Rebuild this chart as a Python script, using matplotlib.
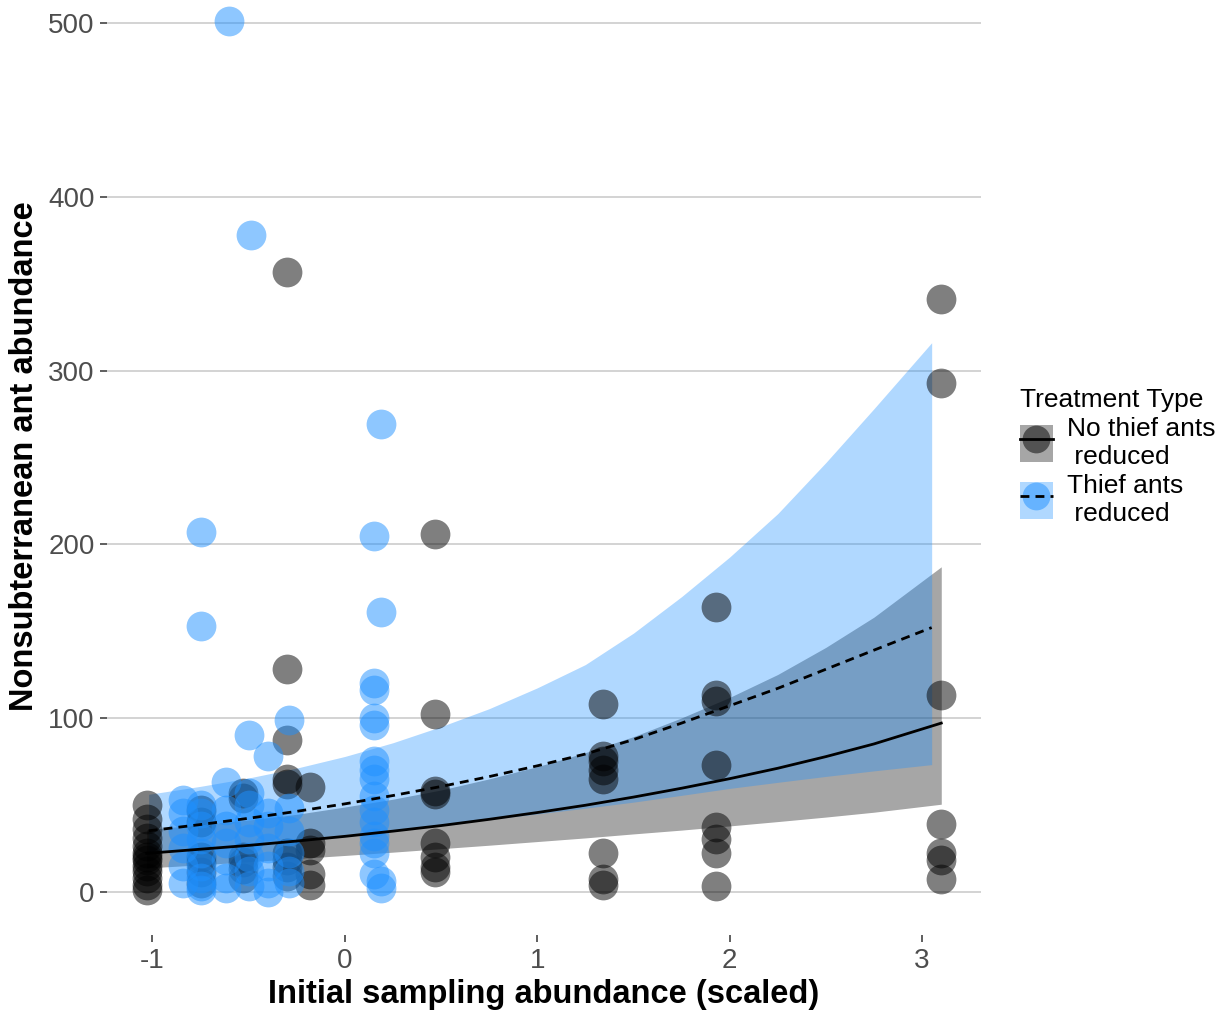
import numpy as np
import matplotlib
matplotlib.use('Agg')
import matplotlib.pyplot as plt
from matplotlib.patches import Patch
from matplotlib.lines import Line2D
from matplotlib.legend_handler import HandlerTuple

plt.rcParams['font.family'] = ['Liberation Sans', 'DejaVu Sans']

# raw points, no thief ants reduced
nothief_x = [-1.03] * 13 + [-0.75] * 6 + [-0.53] * 6 + [-0.30] * 9 + [-0.18] * 5 \
    + [0.47] * 8 + [1.34] * 8 + [1.93] * 8 + [3.10] * 7
nothief_y = [50, 42, 36, 31, 26, 22, 20, 18, 15, 12, 8, 4, 1,
             47, 40, 20, 17, 11, 5,
             57, 54, 20, 17, 13, 8,
             357, 128, 87, 65, 62, 22, 18, 14, 9,
             60, 28, 24, 10, 4,
             206, 102, 58, 56, 28, 20, 14, 11,
             108, 78, 75, 70, 65, 22, 7, 4,
             164, 113, 110, 73, 37, 30, 22, 3,
             341, 293, 113, 39, 22, 18, 7]

# raw points, thief ants reduced
thief_x = [-0.60, -0.49] + [-0.75] * 11 + [-0.84] * 6 + [-0.62] * 7 + [-0.50] * 8 \
    + [-0.40] * 7 + [-0.29] * 6 + [0.19, 0.15, 0.19] + [0.15] * 14 + [0.19] * 2
thief_y = [501, 378,
           207, 153, 50, 45, 38, 30, 22, 15, 8, 3, 1,
           53, 45, 35, 25, 15, 5,
           63, 47, 38, 28, 18, 8, 2,
           90, 57, 50, 40, 30, 20, 12, 3,
           78, 45, 38, 25, 15, 5, 0,
           99, 48, 35, 22, 12, 5,
           269, 205, 161,
           120, 116, 100, 96, 75, 70, 65, 55, 47, 40, 32, 28, 22, 10,
           6, 2]

# fitted curves and confidence bands
fit_x_nt = [-1.03, -0.75, -0.5, -0.25, 0, 0.25, 0.5, 0.75, 1, 1.25, 1.5, 1.75, 2, 2.25, 2.5, 2.75, 3.1]
fit_nt = [22, 24.4, 26.6, 29.1, 31.8, 34.8, 38.0, 41.6, 45.5, 49.7, 54.4, 59.5, 65.0, 71.0, 77.7, 85.0, 97]
hi_nt = [35.6, 38.6, 41.2, 44.5, 48.7, 53.2, 58.5, 64.9, 71.9, 80.0, 89.2, 100, 111.8, 125, 140.6, 158, 187]
lo_nt = [13.6, 15.4, 17.2, 19.0, 20.8, 22.7, 24.7, 26.7, 28.8, 30.9, 33.2, 35.4, 37.8, 40.3, 42.9, 45.7, 50.3]

fit_x_t = [-1.02, -0.75, -0.5, -0.25, 0, 0.25, 0.5, 0.75, 1, 1.25, 1.5, 1.75, 2, 2.25, 2.5, 2.75, 3.05]
fit_t = [35, 38.6, 42.2, 46.2, 50.5, 55.3, 60.5, 66.2, 72.4, 79.2, 87.5, 97, 107, 117, 128, 139, 152]
hi_t = [56, 60.6, 65.4, 71.1, 77.8, 85.7, 95.0, 105.3, 117.3, 130.7, 148.8, 169.8, 192.6, 217.6, 247, 278, 316]
lo_t = [21.9, 24.6, 27.2, 30.0, 32.8, 35.7, 38.5, 41.6, 44.7, 48.0, 51.5, 55.4, 59.4, 62.9, 66.3, 69.5, 73.1]

blue = '#1E90FF'
dash = (3.2, 2.2)

fig = plt.figure(figsize=(12.25, 10.11), dpi=100)
ax = fig.add_axes([107 / 1225, 76 / 1011, 874 / 1225, 957 / 1011])

ax.fill_between(fit_x_nt, lo_nt, hi_nt, color='black', alpha=0.35, lw=0, zorder=2)
ax.fill_between(fit_x_t, lo_t, hi_t, color=blue, alpha=0.35, lw=0, zorder=3)

ax.scatter(nothief_x, nothief_y, s=460, color='black', alpha=0.5, lw=0, zorder=4)
ax.scatter(thief_x, thief_y, s=460, color=blue, alpha=0.5, lw=0, zorder=4)

ax.plot(fit_x_nt, fit_nt, color='black', lw=2.0, zorder=5)
ax.plot(fit_x_t, fit_t, color='black', lw=2.0, dashes=dash, zorder=5)

ax.set_xlim(-1.2365, 3.3065)
ax.set_ylim(-25, 526)
ax.set_xticks([-1, 0, 1, 2, 3])
ax.set_xticklabels(['-1', '0', '1', '2', '3'])
ax.set_yticks([0, 100, 200, 300, 400, 500])
ax.grid(axis='y', color='#cccccc', lw=1.2)
ax.set_axisbelow(True)
for sp in ax.spines.values():
    sp.set_visible(False)
ax.tick_params(axis='both', colors='#333333', labelcolor='#4d4d4d', labelsize=20,
               length=5, width=1.1, pad=4)

ax.set_xlabel('Initial sampling abundance (scaled)', fontsize=23.5, fontweight='bold', labelpad=4)
ax.set_ylabel('Nonsubterranean ant abundance', fontsize=23.5, fontweight='bold', labelpad=6)

h1 = (Patch(facecolor='black', alpha=0.35, lw=0),
      Line2D([], [], marker='o', ls='', markersize=20, color='black', alpha=0.5, mew=0),
      Line2D([], [], color='black', lw=2.0))
h2 = (Patch(facecolor=blue, alpha=0.35, lw=0),
      Line2D([], [], marker='o', ls='', markersize=20, color=blue, alpha=0.5, mew=0),
      Line2D([], [], color='black', lw=2.0, dashes=dash))
leg = fig.legend([h1, h2], ['No thief ants\n reduced', 'Thief ants\n reduced'],
                 handler_map={tuple: HandlerTuple(ndivide=1, pad=0)},
                 title='Treatment Type', alignment='left',
                 loc='upper left', bbox_to_anchor=(1009 / 1225, 1 - 377 / 1011),
                 frameon=False, fontsize=19, title_fontsize=19,
                 handlelength=1.25, handleheight=1.8, handletextpad=0.55,
                 labelspacing=0.2, borderaxespad=0)

fig.savefig('out.png', dpi=100)
